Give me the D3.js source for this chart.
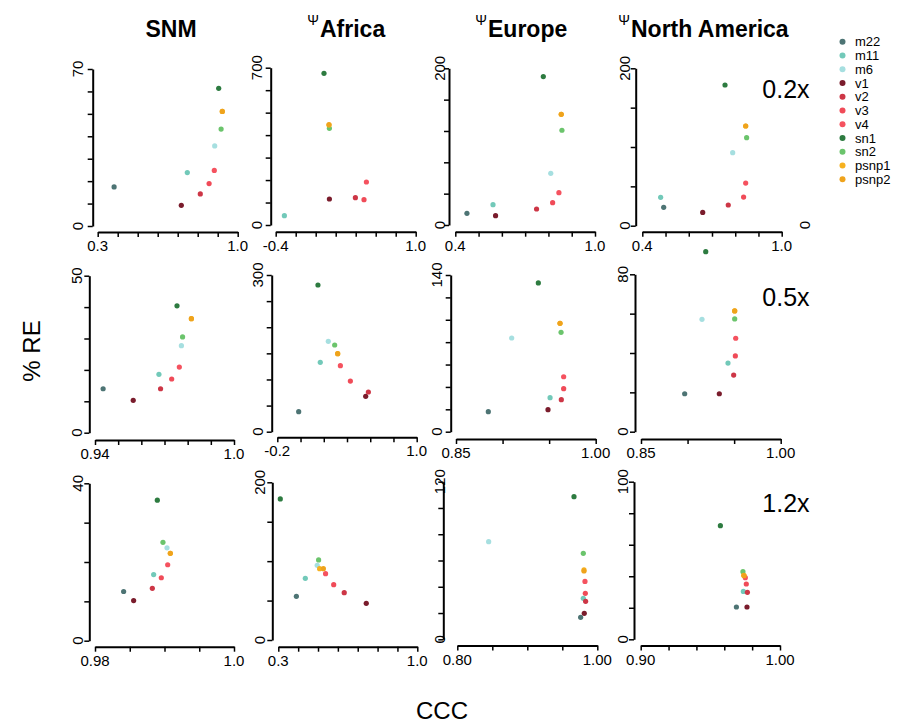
<!DOCTYPE html>
<html>
<head>
<meta charset="utf-8">
<script src="https://cdn.jsdelivr.net/npm/d3@7"></script>
<style>
  body { margin: 0; background: #fff; }
  text { font-family: "Liberation Sans", Arial, Helvetica, sans-serif; fill: #000; }
</style>
</head>
<body>
<script>
// series order used by every value list below
var series = ["m22","m11","m6","v1","v2","v3","v4","sn1","sn2","psnp1","psnp2"];
var colors = ["#4d7474","#72c9b9","#a6dfe0","#7a1c2c","#cd3646","#f04b58","#f5525f","#2d7b40","#6bc46c","#f6b11f","#efa31c"];

var columns = ["SNM","Africa","Europe","North America"];
var rowLabels = ["0.2x","0.5x","1.2x"];

// x domains, y max and tick steps, one per row (4 columns each)
var xDomains = [[[0.3,1],[-0.4,1],[0.4,1],[0.4,1]],
                [[0.94,1],[-0.2,1],[0.85,1],[0.85,1]],
                [[0.98,1],[0.3,1],[0.8,1],[0.9,1]]];
var xSteps = [[0.1,0.2,0.1,0.1],[0.01,0.2,0.05,0.05],[0.005,0.1,0.05,0.02]];
var xLabels = [[["0.3","1.0"],["-0.4","1.0"],["0.4","1.0"],["0.4","1.0"]],
               [["0.94","1.0"],["-0.2","1.0"],["0.85","1.00"],["0.85","1.00"]],
               [["0.98","1.0"],["0.3","1.0"],["0.80","1.00"],["0.90","1.00"]]];
var yMax = [[70,700,200,200],[50,300,140,80],[40,200,120,100]];
var ySteps = [[10,100,40,50],[10,50,20,20],[10,50,20,20]];

// CCC (x) and %RE (y) per column, 0.2x
var ccc02 = [[0.382,0.748,0.885,0.718,0.813,0.857,0.883,0.905,0.917,0.923,0.923],
             [null,-0.313,null,0.137,0.397,0.483,0.507,0.083,0.137,0.133,0.133],
             [0.450,0.562,0.810,0.573,0.749,0.818,0.845,0.778,0.858,0.855,0.855],
             [0.492,0.479,0.789,0.660,0.770,0.836,0.845,0.756,0.849,0.845,0.845]];
var re02 = [[17.4,23.8,35.7,9.2,14.3,18.9,24.8,61.4,43.2,51.1,51.1],
            [null,41.5,null,115.7,121.6,112.7,191.3,674.8,430,444.9,447],
            [14.9,26,66,11.9,20.4,28.5,41.3,189.4,120.9,141.3,141.3],
            [23.3,36,92.8,16.9,26.3,36.4,54.2,178.8,111.9,126.7,126.7]];
// 0.5x
var ccc05 = [[0.9435,0.9676,0.9773,0.9565,0.9683,0.9731,0.9764,0.9754,0.9778,0.9816,0.9816],
             [-0.016,0.170,0.239,0.561,0.584,0.429,0.343,0.150,0.294,0.320,0.320],
             [0.8847,0.9510,0.9098,0.9488,0.9631,0.9656,0.9656,0.9384,0.9628,0.9617,0.9617],
             [0.8969,0.9434,0.9155,0.9341,0.9495,0.9513,0.9517,0.9195,0.9506,0.9506,0.9506]];
var re05 = [[14.0,18.6,27.7,10.3,14.0,17.1,20.9,40.4,30.5,36.3,36.3],
            [38.3,132.8,173,67.7,76,97,126.4,280.9,166,149.4,149.4],
            [17.9,30.4,83.7,19.7,28.6,38.4,49.1,132.9,88.8,96.8,96.8],
            [19.3,34.9,57.1,19.3,28.8,38.5,47.5,91.5,57.3,61.4,61.4]];
// 1.2x
var ccc12 = [[0.98412,0.98844,0.99036,0.98556,0.98825,0.98954,0.99046,0.98897,0.98978,0.99084,0.99084],
             [0.391,0.436,0.496,0.743,0.632,0.579,0.538,0.310,0.503,0.508,0.527],
             [0.9762,0.98,0.8448,0.9814,0.9833,0.9829,0.9824,0.9667,0.98,0.981,0.981],
             [0.9687,0.9737,null,0.9763,0.9766,0.9758,0.9751,0.9572,0.9734,0.9739,0.9743]];
var re12 = [[12.5,16.8,23.6,10.2,13.3,16.0,19.3,35.7,25.0,22.2,22.2],
            [55.4,78.2,94.7,46.5,60,70.2,84.1,178.9,101.5,90.5,90.5],
            [16.7,31.2,74.3,19.8,28.9,35,44.1,108.6,65.5,52.8,52.0],
            [20.5,30.4,null,20.5,29.8,35.1,39.1,72.1,42.9,40.6,40.4]];

var cccRows = [ccc02, ccc05, ccc12];
var reRows = [re02, re05, re12];

// panel boxes: [xStart, xEnd, yAxisX, yTop, yZero, xAxisY, yLabelX]
var boxes = [
  [[97.7,237.7,92.7,69,226,232,78],[275.7,415.7,270.7,67.7,225,231.7,257],[455.3,595,449,68.3,225,231.7,440],[642.3,781.7,635.7,68.3,225.7,231.7,625]],
  [[95,234,89.3,275.7,432.7,440,77],[277.3,416.7,271.7,275,431.7,437.3,258],[456,595.7,450.7,275,431.7,439,437],[641,780.7,635,274.3,431.7,439,623]],
  [[95,234,89.3,483.3,640.7,646.7,78],[278.3,417.3,272.3,482.3,640,646.7,260],[457.3,597.3,443.3,481.7,639.3,645.5,440],[640.7,780,634,481.7,639.3,645.5,623]]
];

var svg = d3.select("body").append("svg")
    .attr("width", 913)
    .attr("height", 723);

boxes.forEach(function(row, r) {
  row.forEach(function(b, c) {
    var x = d3.scaleLinear().domain(xDomains[r][c]).range([b[0], b[1]]);
    var y = d3.scaleLinear().domain([0, yMax[r][c]]).range([b[4], b[3]]);
    var xd = xDomains[r][c];
    var xt = d3.range(0, Math.round((xd[1]-xd[0])/xSteps[r][c]) + 1).map(function(i){ return xd[0] + i*xSteps[r][c]; });
    var yt = d3.range(0, Math.round(yMax[r][c]/ySteps[r][c]) + 1).map(function(i){ return i*ySteps[r][c]; });

    var g = svg.append("g");
    var ya = g.append("g")
        .attr("transform", "translate(" + b[2] + ",0)")
        .call(d3.axisLeft(y).tickValues(yt).tickFormat("").tickSize(5).tickSizeOuter(0));
    var xa = g.append("g")
        .attr("transform", "translate(0," + b[5] + ")")
        .call(d3.axisBottom(x).tickValues(xt).tickFormat("").tickSize(5).tickSizeOuter(0));
    [ya, xa].forEach(function(a){
      a.select(".domain").attr("stroke-width", 2);
      a.selectAll(".tick line").attr("stroke-width", 1.5);
    });

    // y end labels, rotated
    [0, yMax[r][c]].forEach(function(v){
      g.append("text")
        .attr("transform", "translate(" + b[6] + "," + y(v) + ") rotate(-90)")
        .attr("text-anchor", "middle")
        .attr("dy", "0.35em")
        .attr("font-size", 15)
        .text(v);
    });
    // x end labels
    xd.forEach(function(v, i){
      g.append("text")
        .attr("x", x(v))
        .attr("y", b[5] + 19)
        .attr("text-anchor", "middle")
        .attr("font-size", 15)
        .text(xLabels[r][c][i]);
    });

    var pts = series.map(function(s, i){
      return {s: s, col: colors[i], cx: cccRows[r][c][i], re: reRows[r][c][i]};
    }).filter(function(d){ return d.cx != null && d.re != null; });

    g.selectAll("circle").data(pts).enter().append("circle")
      .attr("cx", function(d){ return x(d.cx); })
      .attr("cy", function(d){ return y(d.re); })
      .attr("r", 2.6)
      .attr("fill", function(d){ return d.col; });
  });
});

// stray label at right of the first row
svg.append("text")
  .attr("transform", "translate(805,225) rotate(-90)")
  .attr("text-anchor", "middle").attr("dy", "0.35em")
  .attr("font-size", 15).text("0");

// column titles
var titleX = [171, 320, 488, 631];
columns.forEach(function(t, i){
  svg.append("text")
    .attr("x", titleX[i])
    .attr("y", 37)
    .attr("font-size", 23)
    .attr("font-weight", "bold")
    .attr("text-anchor", i == 0 ? "middle" : "start")
    .text(t);
  if (i > 0) {
    svg.append("text")
      .attr("x", titleX[i] - 1)
      .attr("y", 25)
      .attr("font-size", 14)
      .attr("text-anchor", "end")
      .text("\u03A8");
  }
});

// row labels
var rowY = [89, 297, 503];
rowLabels.forEach(function(t, i){
  svg.append("text")
    .attr("x", 786)
    .attr("y", rowY[i])
    .attr("dy", "0.35em")
    .attr("text-anchor", "middle")
    .attr("font-size", 25)
    .text(t);
});

// axis titles
svg.append("text")
  .attr("transform", "translate(32,351) rotate(-90)")
  .attr("text-anchor", "middle")
  .attr("dy", "0.35em")
  .attr("font-size", 24)
  .text("% RE");
svg.append("text")
  .attr("x", 442)
  .attr("y", 719)
  .attr("text-anchor", "middle")
  .attr("font-size", 24)
  .text("CCC");

// legend
var legend = svg.append("g");
series.forEach(function(s, i){
  legend.append("circle")
    .attr("cx", 842.5)
    .attr("cy", 41.7 + i*13.76)
    .attr("r", 3)
    .attr("fill", colors[i]);
  legend.append("text")
    .attr("x", 855)
    .attr("y", 41.7 + i*13.76)
    .attr("dy", "0.35em")
    .attr("font-size", 13)
    .text(s);
});
</script>
</body>
</html>
